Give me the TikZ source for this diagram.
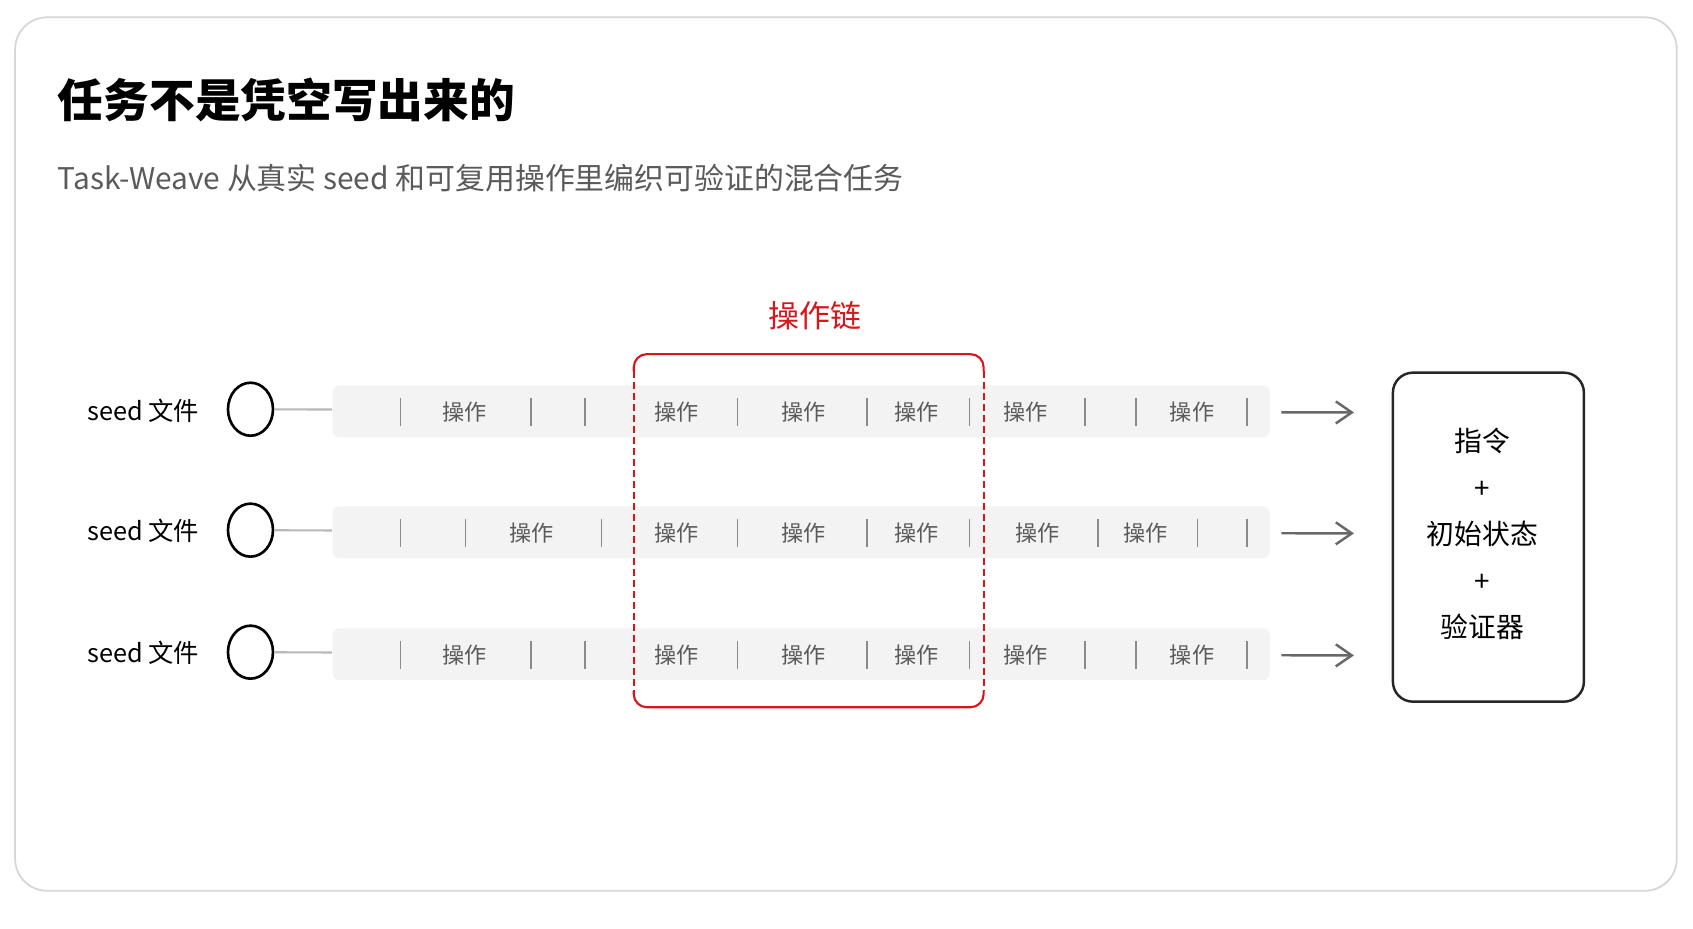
\documentclass[tikz,border=0pt]{standalone}
\usepackage{fontspec}
\setmainfont{Noto Sans CJK SC}
\usepackage{tikz}
\usetikzlibrary{positioning}
\usetikzlibrary{shapes.geometric}
\usetikzlibrary{arrows.meta}
\usepackage{xcolor}
\definecolor{framegray}{HTML}{D6D6D6}
\definecolor{bargray}{HTML}{F3F3F3}
\definecolor{textgray}{HTML}{5A5A5A}
\definecolor{sepgray}{HTML}{8A8A8A}
\definecolor{arrowgray}{HTML}{686868}
\definecolor{chainred}{HTML}{D9141B}

\tikzset{
  seedlabel/.style={anchor=east, inner sep=0pt, font=\fontsize{7.2}{8}\selectfont},
  seedring/.style={draw=black, line width=0.75pt, ellipse, minimum width=4.5mm, minimum height=5.3mm, inner sep=0pt},
  opbar/.style={fill=bargray, rounded corners=0.7mm, minimum width=93.72mm, minimum height=5.18mm, inner sep=0pt},
  oplabel/.style={text=textgray, inner sep=0pt, font=\fontsize{6.3}{7}\selectfont},
  opsep/.style={draw=sepgray, line width=0.45pt},
  link/.style={draw=black!28, line width=0.6pt},
  flow/.style={draw=arrowgray, line width=0.7pt, -{Straight Barb[length=1.6mm,width=2.2mm]}},
  chain/.style={draw=chainred, line width=0.6pt},
  resultbox/.style={draw=black!85, line width=0.7pt, rounded corners=2mm, minimum width=19.1mm, minimum height=32.9mm},
  resulttext/.style={align=center, inner sep=0pt, font=\fontsize{7.9}{13.2}\selectfont}
}

\begin{document}
\begin{tikzpicture}[x=0.10797mm, y=-0.10797mm]
    \useasboundingbox (0,0) rectangle (1568,860);
    \fill[white] (0,0) rectangle (1568,860);
    \draw[framegray, line width=0.5pt, rounded corners=3.2mm] (14,16) rectangle (1553,825);

    \node[anchor=west, inner sep=0pt, font=\fontsize{13}{15}\bfseries] (title) at (53,93) {任务不是凭空写出来的};
    \node[anchor=west, inner sep=0pt, text=textgray, font=\fontsize{8.5}{10}\selectfont] (subtitle) at (53,165) {Task-Weave 从真实 seed 和可复用操作里编织可验证的混合任务};

    % seed rows
    \foreach \r/\y/\seps/\ops in {
        1/381/{371,492,542,683,803,898,1005,1052,1155}/{430,627,744,849,950,1104},
        2/493/{371,431,557,683,803,898,1017,1109,1155}/{492,627,744,849,961,1061},
        3/606/{371,492,542,683,803,898,1005,1052,1155}/{430,627,744,849,950,1104}} {
        \node[seedlabel] (seed\r) at (185,\y-1) {seed 文件};
        \node[seedring] (ring\r) at (232,\y-2) {};
        \node[opbar] (bar\r) at (742,\y) {};
        \draw[link] (ring\r) -- (bar\r);
        \foreach \x in \seps \draw[opsep] (\x,\y-12) -- (\x,\y+14);
        \foreach \x in \ops \node[oplabel] at (\x,\y+1) {操作};
        \coordinate (tip\r) at (1254,\y+1);
        \draw[flow, shorten <=1.1mm] (bar\r) -- (tip\r);
    }

    % operation chain
    \node[text=chainred, inner sep=0pt, font=\fontsize{8.8}{10}\selectfont] (chainlabel) at (755,292) {操作链};
    \draw[chain, rounded corners=1.3mm] (587,344) -- (587,328) -- (911,328) -- (911,344);
    \draw[chain, dash pattern=on 0.65mm off 0.45mm] (587,344) -- (587,640) (911,344) -- (911,640);
    \draw[chain, rounded corners=1.3mm] (587,640) -- (587,655) -- (911,655) -- (911,640);

    \node[resultbox] (result) at (1378.5,497.5) {};
    \node[resulttext] (resultlines) at ([xshift=-0.6mm, yshift=0.3mm]result.center) {指令\\+\\初始状态\\+\\验证器};
\end{tikzpicture}
\end{document}
